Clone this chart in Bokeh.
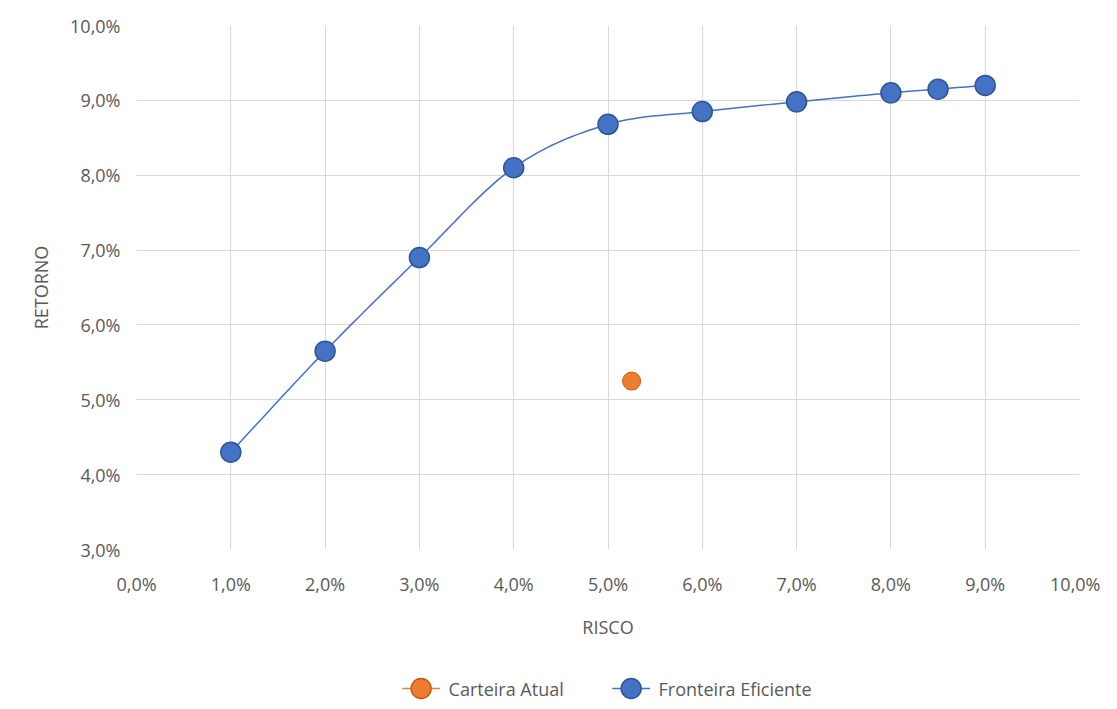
import numpy as np
from bokeh.plotting import figure
from bokeh.layouts import column
from bokeh.models import CustomJSTickFormatter, FixedTicker
from bokeh.core.properties import value
from bokeh.embed import file_html
from bokeh.resources import INLINE

risco = [1.0, 2.0, 3.0, 4.0, 5.0, 6.0, 7.0, 8.0, 8.5, 9.0]
retorno = [4.3, 5.65, 6.9, 8.1, 8.68, 8.85, 8.98, 9.1, 9.15, 9.2]
atual_risco = [5.25]
atual_retorno = [5.25]
series_names = ["Carteira Atual", "Fronteira Eficiente"]
series_fill = ["#ED7D31", "#4472C4"]
series_edge = ["#C55A11", "#2F5597"]

def smooth(xs, ys, n=20):
    P = np.array(list(zip(xs, ys)))
    out = []
    for i in range(len(P) - 1):
        p0 = P[i - 1] if i > 0 else P[i]
        p1, p2 = P[i], P[i + 1]
        p3 = P[i + 2] if i + 2 < len(P) else P[i + 1]
        c1 = p1 + (p2 - p0) / 6
        c2 = p2 - (p3 - p1) / 6
        for t in np.linspace(0, 1, n, endpoint=(i == len(P) - 2)):
            out.append((1-t)**3*p1 + 3*(1-t)**2*t*c1 + 3*(1-t)*t**2*c2 + t**3*p2)
    out = np.array(out)
    return out[:, 0], out[:, 1]

p = figure(width=1100, height=645, x_range=(0, 10), y_range=(3, 10),
           output_backend="svg", toolbar_location=None,
           min_border_left=136, min_border_top=25, min_border_right=21, min_border_bottom=96)
p.outline_line_color = None
fmt = CustomJSTickFormatter(code="return tick.toFixed(1).replace('.', ',') + '%';")
for ax, ticks in ((p.xaxis, list(range(0, 11))), (p.yaxis, list(range(3, 11)))):
    ax.ticker = FixedTicker(ticks=ticks)
    ax.formatter = fmt
    ax.axis_line_color = None
    ax.major_tick_line_color = None
    ax.minor_tick_line_color = None
    ax.major_label_text_font = "Open Sans"
    ax.major_label_text_font_size = "18px"
    ax.major_label_text_color = "#595959"
    ax.axis_label_text_font = "Open Sans"
    ax.axis_label_text_font_size = "18px"
    ax.axis_label_text_color = "#595959"
    ax.axis_label_text_font_style = "normal"
p.xaxis.axis_label = "RISCO"
p.yaxis.axis_label = "RETORNO"
p.xaxis.major_label_standoff = 16
p.xaxis.axis_label_standoff = 16
p.yaxis.major_label_standoff = 10
p.yaxis.axis_label_standoff = 14
p.xgrid.grid_line_color = "#d9d9d9"
p.ygrid.grid_line_color = "#d9d9d9"

sx, sy = smooth(risco, retorno)
p.line(sx, sy, line_color=series_fill[1], line_width=1.5)
p.scatter(risco, retorno, size=20, fill_color=series_fill[1], line_color=series_edge[1], line_width=1.5)
p.scatter(atual_risco, atual_retorno, size=18, fill_color=series_fill[0], line_color=series_edge[0], line_width=1)

# legend strip
lg = figure(width=1100, height=56, x_range=(0, 1100), y_range=(0, 56),
            output_backend="svg", toolbar_location=None, min_border=0)
lg.axis.visible = False
lg.grid.visible = False
lg.outline_line_color = None
lx = [310, 555]
for i, name in enumerate(series_names):
    lg.segment(x0=[lx[i]], y0=[13], x1=[lx[i] + 44], y1=[13], line_color=series_fill[i], line_width=1.5)
    lg.scatter([lx[i] + 22], [13], size=20, fill_color=series_fill[i], line_color=series_edge[i], line_width=1.5)
    lg.text([lx[i] + 54], [13], text=[name], text_font=value("Open Sans"), text_font_size="18px",
            text_color="#595959", text_baseline="middle")

open("out.html", "w").write(file_html(column(p, lg, spacing=0), INLINE))
